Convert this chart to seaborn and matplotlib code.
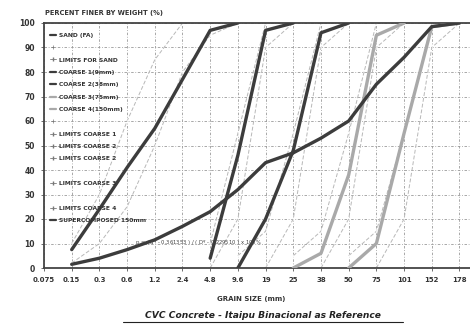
import numpy as np
import pandas as pd
import matplotlib
matplotlib.use("Agg")
import matplotlib.pyplot as plt
from matplotlib.lines import Line2D
import seaborn as sns

nan = np.nan
sieves = ["0.075", "0.15", "0.3", "0.6", "1.2", "2.4", "4.8", "9.6",
          "19", "25", "38", "50", "75", "101", "152", "178"]

sand       = [nan, 7.5, 24, 41, 57, 77, 97, 100, nan, nan, nan, nan, nan, nan, nan, nan]
coarse19   = [nan, nan, nan, nan, nan, nan, 4, 46, 97, 100, nan, nan, nan, nan, nan, nan]
coarse38   = [nan, nan, nan, nan, nan, nan, nan, 0, 20, 48, 96, 100, nan, nan, nan, nan]
coarse75   = [nan, nan, nan, nan, nan, nan, nan, nan, nan, 0, 6, 38, 95, 100, nan, nan]
coarse150  = [nan, nan, nan, nan, nan, nan, nan, nan, nan, nan, nan, 0, 10, 55, 98.5, 100]
supercomp  = [nan, 1.5, 4, 7.5, 11.5, 17, 23, 32, 43, 47, 53, 60, 75, 86, 98.5, 100]

sand_lo    = [nan, 2, 10, 25, 50, 80, 95, 100, nan, nan, nan, nan, nan, nan, nan, nan]
sand_hi    = [nan, 10, 30, 60, 85, 100, nan, nan, nan, nan, nan, nan, nan, nan, nan, nan]
c1_lo      = [nan, nan, nan, nan, nan, nan, 0, 20, 90, 100, nan, nan, nan, nan, nan, nan]
c1_hi      = [nan, nan, nan, nan, nan, nan, 10, 55, 100, nan, nan, nan, nan, nan, nan, nan]
c2_lo      = [nan, nan, nan, nan, nan, nan, nan, nan, 0, 20, 90, 100, nan, nan, nan, nan]
c2_hi      = [nan, nan, nan, nan, nan, nan, nan, 5, 15, 55, 100, nan, nan, nan, nan, nan]
c3_lo      = [nan, nan, nan, nan, nan, nan, nan, nan, nan, nan, 0, 20, 90, 100, nan, nan]
c3_hi      = [nan, nan, nan, nan, nan, nan, nan, nan, nan, 5, 15, 55, 100, nan, nan, nan]
c4_lo      = [nan, nan, nan, nan, nan, nan, nan, nan, nan, nan, nan, nan, 0, 20, 90, 100]
c4_hi      = [nan, nan, nan, nan, nan, nan, nan, nan, nan, nan, nan, 5, 15, 55, 100, nan]

legend_labels = ["SAND (FA)", "", "LIMITS FOR SAND", "COARSE 1(9mm)", "COARSE 2(38mm)",
                 "COARSE 3(75mm)", "COARSE 4(150mm)", "", "LIMITS COARSE 1",
                 "LIMITS COARSE 2", "LIMITS COARSE 2", "", "LIMITS COARSE 3", "",
                 "LIMITS COARSE 4", "SUPERCOMPOSED 150mm"]

sns.set_theme(style="white")
plt.rcParams['font.family'] = ['DejaVu Sans']

fig = plt.figure(figsize=(4.70, 3.25), dpi=100)
ax = fig.add_axes([44/470, 1-268/325, (470-44)/470, (268-23)/325])

x = np.arange(len(sieves))
DARK = "#3c3c3c"
GRAY = "#a9a9a9"
LIM = "#b8b8b8"

def draw(vals, color, lw, ls="-", marker=None, ms=0, z=3):
    s = pd.Series(vals, index=x, dtype=float).dropna()
    sns.lineplot(x=s.index.values, y=s.values, ax=ax, color=color, lw=lw, ls=ls,
                 marker=marker, markersize=ms, markeredgewidth=0.5, zorder=z,
                 estimator=None, sort=False)

for lim in [sand_lo, sand_hi, c1_lo, c1_hi, c2_lo, c2_hi, c3_lo, c3_hi, c4_lo, c4_hi]:
    draw(lim, LIM, 0.7, ls=(0, (4, 2)), marker="|", ms=3, z=2)

draw(sand, DARK, 2.4)
draw(coarse19, DARK, 2.4)
draw(coarse38, DARK, 2.4)
draw(coarse75, GRAY, 2.4)
draw(coarse150, GRAY, 2.4)
draw(supercomp, DARK, 2.4)

ax.set_xlim(0, 15.38)
ax.set_ylim(0, 100)
ax.set_xticks(x)
ax.set_xticklabels(sieves, fontsize=5, fontweight="bold", color="#333333")
ax.set_yticks(np.arange(0, 101, 10))
ax.set_yticklabels([str(v) for v in range(0, 101, 10)], fontsize=5.5,
                   fontweight="bold", color="#333333")
ax.tick_params(axis="both", which="major", length=2.5, width=0.6, color="#555555",
               pad=4, direction="out", bottom=True, left=True)
ax.grid(True, color="#9a9a9a", lw=0.6, ls=(0, (3, 2, 1, 2)))
ax.set_axisbelow(True)
for side in ["left", "bottom", "top"]:
    ax.spines[side].set_visible(True)
    ax.spines[side].set_color("#444444")
    ax.spines[side].set_linewidth(1.3)
ax.spines["right"].set_visible(False)
ax.set_xlabel("")
ax.set_ylabel("")

# legend
handles = []
styles = ["dark", "plus", "lim", "dark", "dark", "gray", "gray", "plus", "lim",
          "lim", "lim", "none", "lim", "none", "lim", "dark"]
for st in styles:
    if st == "dark":
        handles.append(Line2D([], [], color=DARK, lw=1.6))
    elif st == "gray":
        handles.append(Line2D([], [], color=GRAY, lw=1.6))
    elif st == "lim":
        handles.append(Line2D([], [], color="#777777", lw=0.6, marker="|", ms=2.5))
    elif st == "plus":
        handles.append(Line2D([], [], color="#777777", lw=0, marker="+", ms=2.5,
                              markeredgewidth=0.5))
    else:
        handles.append(Line2D([], [], color="none", lw=0))
leg = ax.legend(handles, legend_labels, loc="upper left", bbox_to_anchor=(0.005, 0.975),
                frameon=False, fontsize=4.3, handlelength=1.0, handletextpad=0.5,
                labelspacing=1.2, borderaxespad=0.2)
for t in leg.get_texts():
    t.set_fontweight("bold")
    t.set_color("#333333")

fig.text(45/470, 1-13/325, "PERCENT FINER BY WEIGHT (%)", fontsize=4.8,
         fontweight="bold", color="#333333", va="center", ha="left")
fig.text(251/470, 1-299/325, "GRAIN SIZE (mm)", fontsize=5, fontweight="bold",
         color="#333333", va="center", ha="center")
fig.text(263/470, 1-316/325, "CVC Concrete - Itaipu Binacional as Reference",
         fontsize=6.6, fontweight="bold", style="italic", color="#222222",
         va="center", ha="center")
fig.add_artist(Line2D([123/470, 403/470], [1-322/325, 1-322/325], color="#222222",
                      lw=0.8, transform=fig.transFigure))
ax.text(3.3, 10.0, r"p = ( d$^{q}$ - 0.361353 ) / ( D$^{q}$ - 0.229510 ) x 100%",
        fontsize=3.8, color="#444444", va="center", ha="left", zorder=4)

fig.savefig("out.png", dpi=100)
